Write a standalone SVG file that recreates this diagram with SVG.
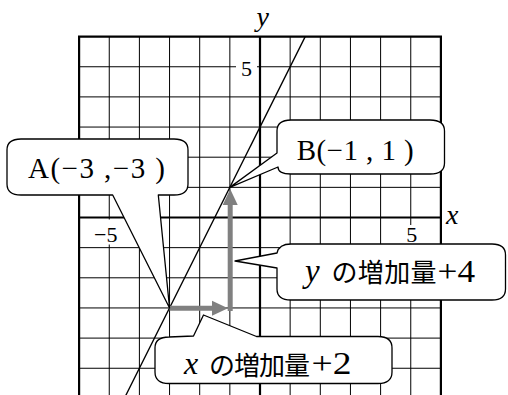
<svg xmlns="http://www.w3.org/2000/svg" width="508" height="395" viewBox="0 0 508 395">
<style>
.thin{stroke:#000;stroke-width:1;fill:none}
.thick{stroke:#000;stroke-width:2.2;fill:none}
.txt{font-family:'Liberation Serif','Noto Sans CJK JP',serif;fill:#000}
.jp{font-family:'Liberation Serif','Noto Sans CJK JP',sans-serif;fill:#000}
.it{font-family:'Liberation Serif',serif;font-style:italic;fill:#000}
.callout{fill:#fff;stroke:#000;stroke-width:1.3;stroke-linejoin:round}
.arrow{stroke:#808080;stroke-width:5;fill:none}
</style>
<defs>
<marker id="head" markerUnits="userSpaceOnUse" markerWidth="16" markerHeight="16" refX="0" refY="7.5" orient="auto" overflow="visible">
<path d="M0,0 L16,7.5 L0,15 Z" fill="#808080"/>
</marker>
</defs>
<rect width="508" height="395" fill="#fff"/>
<g id="grid">
<path class="thin" d="M109.25,36.6V400M139.4,36.6V400M169.55,36.6V400M199.7,36.6V400M229.85,36.6V400M290.15,36.6V400M320.3,36.6V400M350.45,36.6V400M380.6,36.6V400M410.75,36.6V400"/>
<path class="thin" d="M79.1,66.75H440.9M79.1,96.9H440.9M79.1,127.05H440.9M79.1,157.2H440.9M79.1,187.35H440.9M79.1,247.65H440.9M79.1,277.8H440.9M79.1,307.95H440.9M79.1,338.1H440.9M79.1,368.25H440.9"/>
<path class="thick" d="M79.1,400V36.6H440.9V400"/>
<path class="thick" d="M260,36.6V400M79.1,217.5H440.9"/>
</g>
<g id="labels">
<rect x="236" y="57" width="21" height="21" fill="#fff"/>
<text class="txt" x="246.5" y="76" font-size="22" text-anchor="middle">5</text>
<rect x="90" y="219.5" width="29" height="25" fill="#fff"/>
<text class="txt" x="117.5" y="241.7" font-size="22" text-anchor="end">−5</text>
<rect x="403" y="225" width="17" height="19" fill="#fff"/>
<text class="txt" x="411.7" y="241.7" font-size="22" text-anchor="middle">5</text>
<text class="it" x="256.5" y="26" font-size="28">y</text>
<text class="it" x="446" y="224" font-size="28">x</text>
</g>
<g id="connectors">
<line x1="305.225" y1="36.6" x2="123.5" y2="400" stroke="#000" stroke-width="1.3"/>
<line class="arrow" x1="169.55" y1="308.3" x2="212" y2="308.3" marker-end="url(#head)"/>
<line class="arrow" x1="230.2" y1="311" x2="230.2" y2="205" marker-end="url(#head)"/>
</g>
<g id="node-A">
<path class="callout" d="M21,139 H174 Q188,139 188,150 V184 Q188,195 174,195 H158.3 L169.55,307.95 L112.7,195 H21 Q7,195 7,184 V150 Q7,139 21,139 Z"/>
<text class="txt" x="28" y="178" font-size="29" textLength="137">A(−3 ,−3 )</text>
</g>
<g id="node-B">
<path class="callout" d="M291,120 H430 Q444.5,120 444.5,131 V163 Q444.5,174 430,174 H291 Q278,174 278,167 L229.85,187.35 L277,153 V131 Q277,120 291,120 Z"/>
<text class="txt" x="296.7" y="159.5" font-size="29" textLength="117">B(−1 , 1 )</text>
</g>
<g id="node-yinc">
<path class="callout" d="M291,244 H492 Q505.5,244 505.5,255 V289 Q505.5,300 492,300 H291 Q277,300 277,289 V268 L235,261 L277,253 Q279,244 291,244 Z"/>
<text class="it" x="305" y="281.5" font-size="33">y</text>
<text class="jp" x="331.5" y="281.5" font-size="26" textLength="105">の増加量</text>
<text class="txt" x="437.5" y="281.5" font-size="32" textLength="37.5" lengthAdjust="spacingAndGlyphs">+4</text>
</g>
<g id="node-xinc">
<path class="callout" d="M169,337 L193.5,336 L203.5,315 L256.5,336.5 H378 Q392,336.5 392,348 V372 Q392,383.5 378,383.5 H169 Q155,383.5 155,372 V348 Q155,337 169,337 Z"/>
<text class="it" x="184" y="373.5" font-size="32">x</text>
<text class="jp" x="209" y="374.5" font-size="26" textLength="101">の増加量</text>
<text class="txt" x="311.5" y="373.5" font-size="32" textLength="40" lengthAdjust="spacingAndGlyphs">+2</text>
</g>
</svg>
